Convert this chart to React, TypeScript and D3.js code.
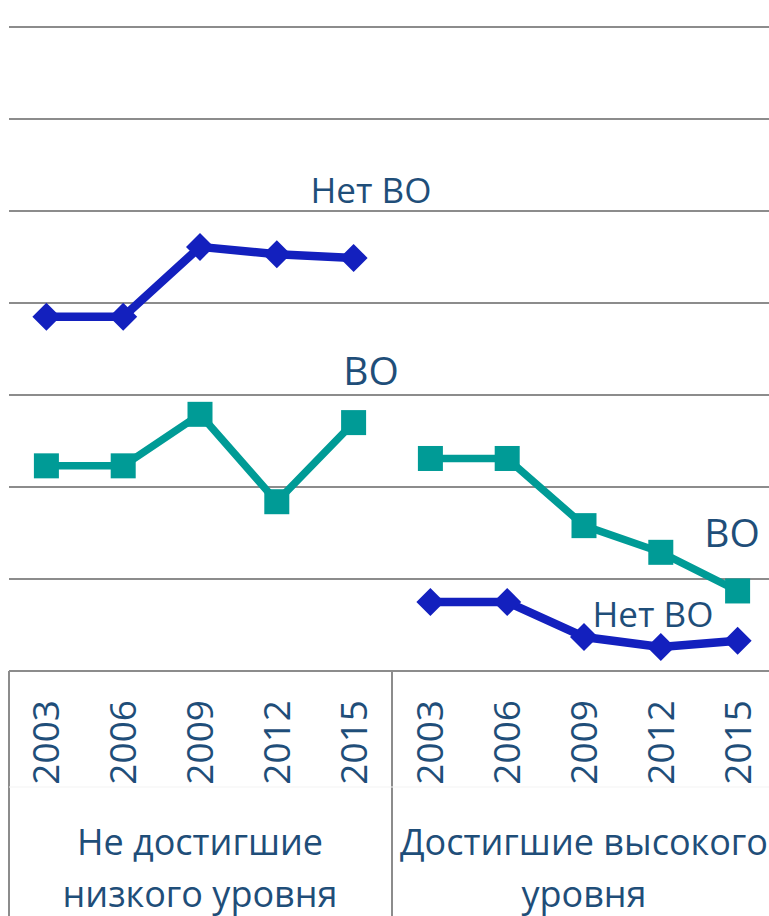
import React from "react";
import * as d3 from "d3";

const years = ["2003", "2006", "2009", "2012", "2015"];
const groups = ["Не достигшие низкого уровня", "Достигшие высокого уровня"];
const groupLines = [["Не достигшие", "низкого уровня"], ["Достигшие высокого", "уровня"]];
const noHELow = [38.5, 38.5, 46.1, 45.3, 44.9];
const heLow = [22.3, 22.3, 27.9, 18.4, 27.0];
const noHEHigh = [7.5, 7.5, 3.7, 2.6, 3.3];
const heHigh = [23.1, 23.1, 15.8, 12.9, 8.7];
const yTicks = [0, 10, 20, 30, 40, 50, 60, 70];

const W = 769;
const H = 916;
const FONT = "'Open Sans', 'Noto Sans', sans-serif";
const TEXT = "#1F4E79";
const BLUE = "#1320BE";
const TEAL = "#009B96";
const GRID = "#8C8C8C";

export default function App() {
  const cats = groups.flatMap((g, gi) => years.map((y) => `${gi}-${y}`));
  const x = d3.scaleBand<string>().domain(cats).range([8, 776]).padding(0);
  const y = d3.scaleLinear().domain([0, 70]).range([671, 27]);
  const cx = (gi: number, i: number) => (x(`${gi}-${years[i]}`) as number) + x.bandwidth() / 2;

  const series = [
    { vals: noHELow, gi: 0, color: BLUE, kind: "diamond", sw: 8.5 },
    { vals: heLow, gi: 0, color: TEAL, kind: "square", sw: 7.5 },
    { vals: heHigh, gi: 1, color: TEAL, kind: "square", sw: 7.5 },
    { vals: noHEHigh, gi: 1, color: BLUE, kind: "diamond", sw: 8.5 },
  ];

  const groupStart = (gi: number) => x(`${gi}-${years[0]}`) as number;
  const groupCenter = (gi: number) => groupStart(gi) + (x.bandwidth() * years.length) / 2;

  return (
    <div style={{ position: "absolute", left: 0, top: 0 }}>
      <svg width={W} height={H} style={{ display: "block", background: "#fff" }}>
        {yTicks.slice(1).map((t) => (
          <line key={t} x1={9} x2={W} y1={y(t)} y2={y(t)} stroke={GRID} strokeWidth={2} />
        ))}
        {/* category axis */}
        <line x1={9} x2={W} y1={y(0)} y2={y(0)} stroke={GRID} strokeWidth={2} />
        <line x1={9} x2={9} y1={y(0)} y2={H} stroke={GRID} strokeWidth={2} />
        <line x1={groupStart(1)} x2={groupStart(1)} y1={y(0)} y2={H} stroke={GRID} strokeWidth={2} />
        <line x1={9} x2={W} y1={787} y2={787} stroke="#F3F3F3" strokeWidth={1} />
        {groups.map((g, gi) =>
          years.map((yr, i) => (
            <text
              key={g + yr}
              transform={`translate(${cx(gi, i) + 13},${700}) rotate(-90)`}
              textAnchor="end"
              fontFamily={FONT}
              fontSize={37}
              fill={TEXT}
            >
              {yr}
            </text>
          ))
        )}
        {groupLines.map((ls, gi) =>
          ls.map((l, li) => (
            <text
              key={gi + "-" + li}
              x={groupCenter(gi)}
              y={855 + li * 52}
              textAnchor="middle"
              fontFamily={FONT}
              fontSize={36}
              fill={TEXT}
            >
              {l}
            </text>
          ))
        )}
        {series.map((s, si) => {
          const l = d3
            .line<number>()
            .x((_, i) => cx(s.gi, i))
            .y((d) => y(d));
          return (
            <path key={"l" + si} d={l(s.vals) || ""} fill="none" stroke={s.color} strokeWidth={s.sw} strokeLinejoin="round" />
          );
        })}
        {series.map((s, si) =>
          s.vals.map((v, i) => {
            const px = cx(s.gi, i);
            const py = y(v);
            if (s.kind === "diamond") {
              const r = 14;
              return (
                <path
                  key={"m" + si + i}
                  d={`M${px},${py - r}L${px + r},${py}L${px},${py + r}L${px - r},${py}Z`}
                  fill={s.color}
                />
              );
            }
            const h = 12.5;
            return <rect key={"m" + si + i} x={px - h} y={py - h} width={h * 2} height={h * 2} fill={s.color} />;
          })
        )}
        <text x={371} y={203} textAnchor="middle" fontFamily={FONT} fontSize={35} fill={TEXT}>Нет ВО</text>
        <text x={371} y={385} textAnchor="middle" fontFamily={FONT} fontSize={39} fill={TEXT}>ВО</text>
        <text x={732} y={547} textAnchor="middle" fontFamily={FONT} fontSize={39} fill={TEXT}>ВО</text>
        <text x={653} y={627} textAnchor="middle" fontFamily={FONT} fontSize={35} fill={TEXT}>Нет ВО</text>
      </svg>
    </div>
  );
}
